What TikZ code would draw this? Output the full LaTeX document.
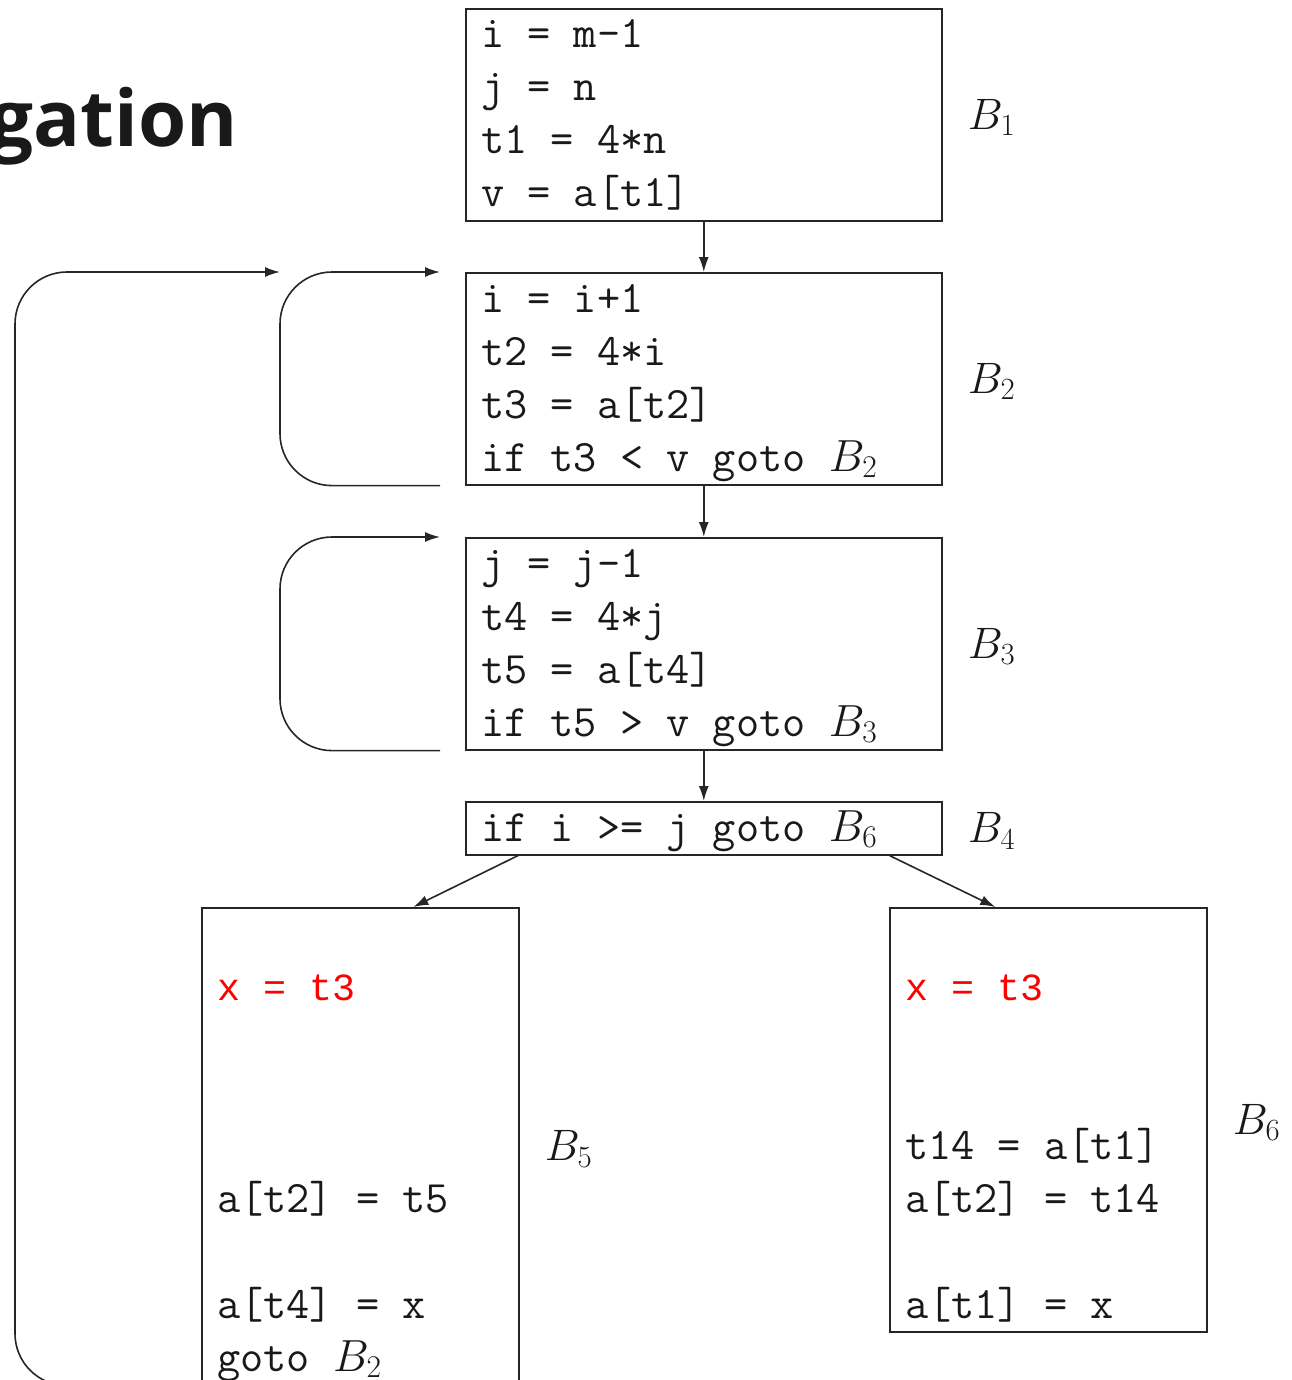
\RequirePackage{fix-cm}
\documentclass[tikz,border=0pt]{standalone}
\usepackage{fontspec}
\newfontfamily\redmono{Liberation Mono}
\newfontfamily\titlefont{Open Sans}
\usetikzlibrary{arrows.meta}

\begin{document}
\begin{tikzpicture}[x=1pt,y=-1pt,
  >={Latex[length=15pt,width=10pt]},
  blk/.style={draw=black!85, line width=1.6pt, inner sep=0pt, minimum width=476pt, anchor=north west},
  code/.style={anchor=base west, inner sep=0pt, text=black!90, font=\fontsize{45pt}{53pt}\selectfont\ttfamily},
  hot/.style={anchor=base west, inner sep=0pt, text=red, font=\fontsize{38.4pt}{53pt}\selectfont\redmono},
  lbl/.style={anchor=base west, inner sep=0pt, text=black!90, font=\fontsize{44pt}{53pt}\selectfont},
  flow/.style={->, line width=1.6pt, draw=black!85}]
\def\lh{53}
\def\gap{25}

\path[use as bounding box, clip] (0,0) rectangle (1291,1380);

\node[anchor=base east, inner sep=0pt, text=black!90, font=\fontsize{78pt}{90pt}\selectfont\titlefont\bfseries] (title) at (238,147) {gation};

% blocks
\node[blk, minimum height=212pt] (b1) at (465,8) {};
\node[blk, minimum height=212pt] (b2) at (465,272) {};
\node[blk, minimum height=212pt] (b3) at (465,537) {};
\node[blk, minimum height=53pt] (b4) at (465,801) {};
\node[blk, minimum width=317pt, minimum height=477pt] (b5) at (201,907) {};
\node[blk, minimum width=317pt, minimum height=424pt] (b6) at (889,907) {};

% code lines
\foreach \b/\k/\t in {b1/1/{i = m-1}, b1/2/{j = n}, b1/3/{t1 = 4*n}, b1/4/{v = a[t1]},
    b2/1/{i = i+1}, b2/2/{t2 = 4*i}, b2/3/{t3 = a[t2]}, b2/4/{if t3 < v goto $B_2$},
    b3/1/{j = j-1}, b3/2/{t4 = 4*j}, b3/3/{t5 = a[t4]}, b3/4/{if t5 > v goto $B_3$},
    b4/1/{if i >= j goto $B_6$},
    b5/6/{a[t2] = t5}, b5/8/{a[t4] = x}, b5/9/{goto $B_2$},
    b6/5/{t14 = a[t1]}, b6/6/{a[t2] = t14}, b6/8/{a[t1] = x}} {
  \node[code] (\b-\k) at ([xshift=16pt, yshift={-40pt-\lh pt*(\k-1)}]\b.north west) {\t};
}
\foreach \b in {b5,b6} {
  \node[hot] (\b-2) at ([xshift=16pt, yshift={-40pt-\lh pt}]\b.north west) {x = t3};
}

% block names
\foreach \n in {1,...,6} {
  \node[lbl] (l\n) at ([xshift=\gap pt, yshift=-14.5pt]b\n.east) {$B_\n$};
}

% edges
\draw[flow] (b1) -- (b2);
\draw[flow] (b2) -- (b3);
\draw[flow] (b3) -- (b4);
\draw[flow] ([xshift=53pt]b4.south west) -- ([xshift=53pt]b5.north);
\draw[flow] ([xshift=-53pt]b4.south east) -- ([xshift=-53pt]b6.north);

% back edges
\coordinate (o2) at ([xshift=-\gap pt]b2.south west);
\coordinate (i2) at ([xshift=-\gap pt]b2.north west);
\coordinate (o3) at ([xshift=-\gap pt]b3.south west);
\coordinate (i3) at ([xshift=-\gap pt]b3.north west);
\coordinate (o5) at ([xshift=-\gap pt]b5.south west);
\coordinate (i5) at ([xshift=-185pt]b2.north west);
\draw[flow, rounded corners=52pt] (o2) -- ++(-160,0) |- (i2);
\draw[flow, rounded corners=52pt] (o3) -- ++(-160,0) |- (i3);
\draw[flow, rounded corners=52pt] (o5) -- ++(-161,0) |- (i5);
\end{tikzpicture}
\end{document}
